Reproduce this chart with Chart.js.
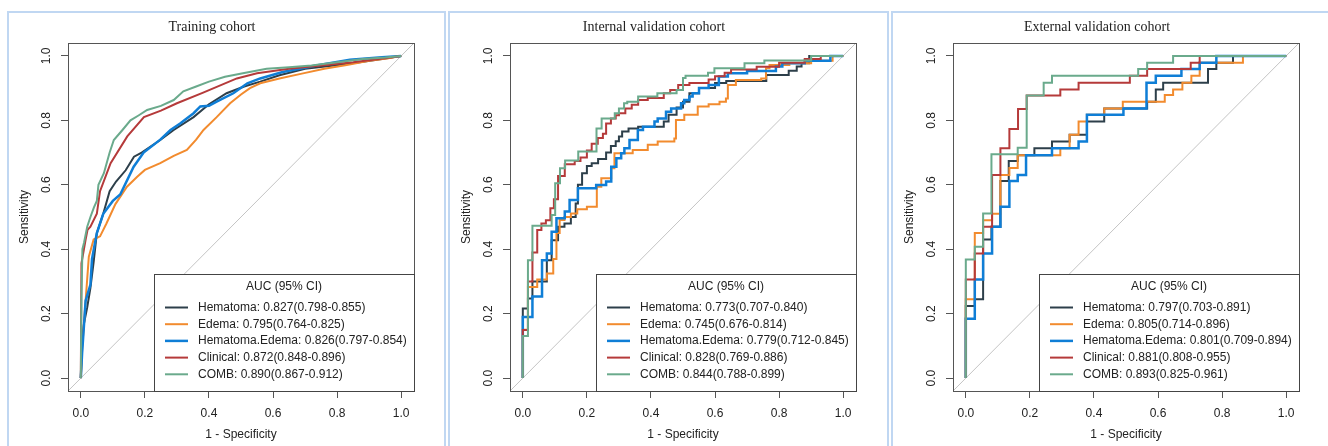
<!DOCTYPE html>
<html>
<head>
<meta charset="utf-8">
<script src="https://cdn.jsdelivr.net/npm/chart.js@4.4.1/dist/chart.umd.min.js"></script>
<style>
  body { margin: 0; background: #fff; width: 1328px; height: 446px; overflow: hidden; position: relative; }
  .panel { position: absolute; top: 11px; height: 460px; border: 2px solid #c0d7f2; box-sizing: border-box; }
  canvas { position: absolute; top: 13px; }
</style>
</head>
<body>
<div class="panel" style="left:7px;width:439px"></div>
<div class="panel" style="left:448px;width:441px"></div>
<div class="panel" style="left:891px;width:450px"></div>
<canvas id="train" width="434" height="433" style="left:8px"></canvas>
<canvas id="internal" width="434" height="433" style="left:450px"></canvas>
<canvas id="external" width="434" height="433" style="left:893px"></canvas>
<script>
// ROC curves: 1 - specificity (fpr) and sensitivity (sens)
const modelNames = ['Hematoma', 'Edema', 'Hematoma.Edema', 'Clinical', 'COMB'];
const modelColors = ['#2d3f4a', '#f28b2e', '#0f7ed6', '#b53a3a', '#6aaa8c'];
const tickVals = [0, 0.2, 0.4, 0.6, 0.8, 1.0];
const axisMin = -0.04, axisMax = 1.04;

// training cohort
const trainHemFpr = [0, 0.004, 0.01, 0.02, 0.03, 0.04, 0.05, 0.07, 0.09, 0.11, 0.14, 0.166, 0.19, 0.248, 0.29, 0.352, 0.40, 0.455, 0.51, 0.56, 0.62, 0.70, 0.79, 0.87, 0.94, 1];
const trainHemSens = [0, 0.12, 0.17, 0.22, 0.28, 0.36, 0.45, 0.51, 0.58, 0.61, 0.645, 0.687, 0.70, 0.739, 0.77, 0.81, 0.85, 0.884, 0.905, 0.92, 0.94, 0.96, 0.97, 0.98, 0.99, 1];
const trainEdeFpr = [0, 0.004, 0.015, 0.025, 0.04, 0.06, 0.08, 0.108, 0.144, 0.176, 0.20, 0.248, 0.29, 0.331, 0.36, 0.383, 0.424, 0.466, 0.50, 0.528, 0.56, 0.62, 0.69, 0.76, 0.83, 0.90, 0.96, 1];
const trainEdeSens = [0, 0.09, 0.24, 0.377, 0.43, 0.44, 0.48, 0.54, 0.594, 0.625, 0.646, 0.667, 0.69, 0.708, 0.74, 0.77, 0.81, 0.853, 0.88, 0.90, 0.915, 0.93, 0.945, 0.96, 0.972, 0.985, 0.993, 1];
const trainHeFpr = [0, 0.004, 0.015, 0.03, 0.035, 0.05, 0.07, 0.10, 0.123, 0.165, 0.196, 0.248, 0.28, 0.31, 0.352, 0.373, 0.40, 0.424, 0.476, 0.52, 0.56, 0.63, 0.735, 0.84, 0.94, 1];
const trainHeSens = [0, 0.077, 0.24, 0.29, 0.37, 0.45, 0.51, 0.55, 0.57, 0.656, 0.70, 0.74, 0.77, 0.79, 0.822, 0.843, 0.845, 0.858, 0.884, 0.915, 0.93, 0.95, 0.97, 0.988, 0.996, 1];
const trainCliFpr = [0, 0.002, 0.015, 0.021, 0.03, 0.05, 0.06, 0.093, 0.145, 0.197, 0.25, 0.30, 0.38, 0.487, 0.55, 0.65, 0.75, 0.85, 0.93, 1];
const trainCliSens = [0, 0.356, 0.43, 0.46, 0.47, 0.51, 0.58, 0.667, 0.75, 0.81, 0.83, 0.853, 0.885, 0.93, 0.946, 0.96, 0.97, 0.98, 0.99, 1];
const trainCombFpr = [0, 0.002, 0.005, 0.01, 0.02, 0.03, 0.041, 0.05, 0.055, 0.072, 0.09, 0.103, 0.13, 0.155, 0.18, 0.207, 0.25, 0.29, 0.32, 0.36, 0.40, 0.45, 0.51, 0.58, 0.65, 0.72, 0.80, 0.88, 0.95, 1];
const trainCombSens = [0, 0.25, 0.40, 0.42, 0.47, 0.50, 0.53, 0.55, 0.60, 0.636, 0.70, 0.739, 0.77, 0.80, 0.815, 0.832, 0.845, 0.863, 0.89, 0.905, 0.92, 0.935, 0.947, 0.96, 0.965, 0.97, 0.98, 0.99, 0.995, 1];
const trainAuc = ['0.827(0.798-0.855)', '0.795(0.764-0.825)', '0.826(0.797-0.854)', '0.872(0.848-0.896)', '0.890(0.867-0.912)'];

// internal validation cohort (staircase corners)
const intHemFpr = [0, 0.016, 0.030, 0.075, 0.090, 0.110, 0.130, 0.150, 0.165, 0.172, 0.185, 0.200, 0.215, 0.235, 0.260, 0.275, 0.290, 0.300, 0.310, 0.330, 0.360, 0.440, 0.455, 0.480, 0.500, 0.520, 0.550, 0.600, 0.635, 0.760, 0.830, 0.855, 0.870, 0.894, 1];
const intHemSens = [0, 0.216, 0.247, 0.30, 0.366, 0.428, 0.47, 0.48, 0.50, 0.542, 0.60, 0.636, 0.658, 0.667, 0.68, 0.70, 0.72, 0.735, 0.75, 0.765, 0.775, 0.78, 0.796, 0.817, 0.84, 0.858, 0.884, 0.90, 0.916, 0.922, 0.941, 0.954, 0.967, 0.977, 1];
const intEdeFpr = [0, 0.016, 0.045, 0.075, 0.095, 0.105, 0.115, 0.130, 0.150, 0.170, 0.200, 0.231, 0.245, 0.276, 0.286, 0.343, 0.390, 0.421, 0.473, 0.478, 0.504, 0.546, 0.580, 0.614, 0.634, 0.640, 0.665, 0.744, 0.759, 0.770, 0.832, 0.900, 0.967, 1];
const intEdeSens = [0, 0.15, 0.283, 0.306, 0.325, 0.37, 0.45, 0.491, 0.50, 0.511, 0.524, 0.532, 0.594, 0.62, 0.651, 0.698, 0.708, 0.724, 0.734, 0.744, 0.801, 0.817, 0.843, 0.85, 0.858, 0.868, 0.91, 0.925, 0.93, 0.962, 0.972, 0.977, 0.985, 1];
const intHeFpr = [0, 0.030, 0.060, 0.075, 0.090, 0.105, 0.131, 0.146, 0.172, 0.229, 0.260, 0.276, 0.292, 0.307, 0.317, 0.333, 0.359, 0.375, 0.411, 0.421, 0.447, 0.463, 0.494, 0.504, 0.520, 0.530, 0.550, 0.580, 0.612, 0.640, 0.700, 0.790, 0.810, 0.880, 0.960, 1];
const intHeSens = [0, 0.19, 0.253, 0.366, 0.387, 0.454, 0.496, 0.517, 0.553, 0.589, 0.599, 0.61, 0.656, 0.682, 0.698, 0.713, 0.739, 0.77, 0.78, 0.796, 0.806, 0.827, 0.837, 0.853, 0.863, 0.874, 0.884, 0.90, 0.91, 0.936, 0.946, 0.953, 0.967, 0.977, 0.985, 1];
const intCliFpr = [0, 0.016, 0.030, 0.045, 0.058, 0.072, 0.086, 0.097, 0.110, 0.131, 0.162, 0.18, 0.20, 0.215, 0.234, 0.25, 0.26, 0.275, 0.29, 0.30, 0.32, 0.34, 0.36, 0.39, 0.44, 0.46, 0.485, 0.52, 0.58, 0.60, 0.63, 0.65, 0.73, 0.80, 0.88, 0.93, 1];
const intCliSens = [0, 0.149, 0.30, 0.39, 0.46, 0.48, 0.49, 0.527, 0.555, 0.627, 0.664, 0.674, 0.685, 0.706, 0.727, 0.745, 0.758, 0.79, 0.806, 0.816, 0.822, 0.837, 0.848, 0.863, 0.869, 0.884, 0.894, 0.91, 0.916, 0.927, 0.937, 0.948, 0.958, 0.966, 0.979, 0.99, 1];
const intCombFpr = [0, 0.016, 0.030, 0.090, 0.101, 0.116, 0.132, 0.173, 0.230, 0.246, 0.287, 0.300, 0.316, 0.326, 0.36, 0.42, 0.48, 0.50, 0.508, 0.578, 0.598, 0.692, 0.754, 0.90, 1];
const intCombSens = [0, 0.131, 0.366, 0.473, 0.506, 0.605, 0.651, 0.675, 0.703, 0.775, 0.806, 0.822, 0.837, 0.853, 0.858, 0.874, 0.884, 0.894, 0.931, 0.938, 0.948, 0.962, 0.977, 0.986, 1];
const intAuc = ['0.773(0.707-0.840)', '0.745(0.676-0.814)', '0.779(0.712-0.845)', '0.828(0.769-0.886)', '0.844(0.788-0.899)'];

// external validation cohort (staircase corners)
const extHemFpr = [0, 0.028, 0.054, 0.080, 0.108, 0.134, 0.162, 0.214, 0.269, 0.324, 0.378, 0.432, 0.566, 0.593, 0.616, 0.756, 0.782, 0.834, 1];
const extHemSens = [0, 0.224, 0.245, 0.43, 0.47, 0.612, 0.674, 0.692, 0.713, 0.734, 0.755, 0.796, 0.837, 0.858, 0.896, 0.917, 0.959, 0.979, 1];
const extEdeFpr = [0, 0.028, 0.054, 0.082, 0.108, 0.136, 0.162, 0.295, 0.324, 0.352, 0.378, 0.432, 0.49, 0.621, 0.647, 0.676, 0.704, 0.730, 0.865, 1];
const extEdeSens = [0, 0.245, 0.45, 0.49, 0.51, 0.63, 0.652, 0.692, 0.713, 0.755, 0.796, 0.817, 0.837, 0.858, 0.879, 0.896, 0.917, 0.938, 0.979, 1];
const extHeFpr = [0, 0.028, 0.054, 0.082, 0.108, 0.136, 0.162, 0.188, 0.269, 0.352, 0.378, 0.492, 0.564, 0.593, 0.673, 0.730, 0.782, 1];
const extHeSens = [0, 0.184, 0.306, 0.387, 0.47, 0.532, 0.612, 0.63, 0.692, 0.713, 0.734, 0.817, 0.837, 0.917, 0.938, 0.959, 0.979, 1];
const extCliFpr = [0, 0.028, 0.054, 0.082, 0.108, 0.136, 0.163, 0.190, 0.295, 0.352, 0.512, 0.566, 0.702, 0.730, 1];
const extCliSens = [0, 0.306, 0.387, 0.47, 0.63, 0.713, 0.773, 0.835, 0.877, 0.896, 0.917, 0.938, 0.959, 0.979, 1];
const extCombFpr = [0, 0.028, 0.054, 0.080, 0.162, 0.190, 0.243, 0.269, 0.538, 0.566, 0.647, 1];
const extCombSens = [0, 0.368, 0.408, 0.511, 0.695, 0.715, 0.877, 0.917, 0.938, 0.959, 0.979, 1];
const extAuc = ['0.797(0.703-0.891)', '0.805(0.714-0.896)', '0.801(0.709-0.894)', '0.881(0.808-0.955)', '0.893(0.825-0.961)'];

const sansFont = '"Liberation Sans", Arial, sans-serif';
const pts = (xs, ys) => xs.map((x, i) => ({ x: x, y: ys[i] }));

// box, rotated y labels, title and the AUC legend (R / pROC look)
const rocDecor = {
  id: 'rocDecor',
  afterDraw(chart, args, opts) {
    const ctx = chart.ctx, a = chart.chartArea, ys = chart.scales.y;
    ctx.save();
    ctx.strokeStyle = '#555';
    ctx.lineWidth = 1;
    ctx.strokeRect(Math.round(a.left) + 0.5, Math.round(a.top) + 0.5, Math.round(a.right - a.left), Math.round(a.bottom - a.top));

    ctx.fillStyle = '#222';
    ctx.font = '12px ' + sansFont;
    ctx.textAlign = 'center';
    ctx.textBaseline = 'middle';
    tickVals.forEach(v => {
      ctx.save();
      ctx.translate(a.left - 21, ys.getPixelForValue(v));
      ctx.rotate(-Math.PI / 2);
      ctx.fillText(v.toFixed(1), 0, 0);
      ctx.restore();
    });

    ctx.font = '14px "Liberation Serif", "Times New Roman", serif';
    ctx.fillText(opts.title, (a.left + a.right) / 2 - 29, a.top - 16);

    // legend
    const w = 260, h = 117;
    const lx = a.right - w, ly = a.bottom - h;
    ctx.fillStyle = '#fff';
    ctx.fillRect(lx, ly, w, h);
    ctx.strokeStyle = '#444';
    ctx.strokeRect(Math.round(lx) + 0.5, Math.round(ly) + 0.5, w, h);
    ctx.fillStyle = '#222';
    ctx.font = '12px ' + sansFont;
    ctx.fillText('AUC (95% CI)', lx + w / 2, ly + 13);
    ctx.textAlign = 'left';
    modelNames.forEach((name, i) => {
      const yy = ly + 33.5 + i * 16.7;
      ctx.strokeStyle = modelColors[i];
      ctx.lineWidth = i === 2 ? 2.5 : 2;
      ctx.beginPath();
      ctx.moveTo(lx + 11, yy);
      ctx.lineTo(lx + 34, yy);
      ctx.stroke();
      ctx.fillStyle = '#222';
      ctx.fillText(name + ': ' + opts.auc[i], lx + 44, yy);
    });
    ctx.restore();
  }
};

function rocChart(id, title, fprs, senss, auc, stepped) {
  const datasets = fprs.map((f, i) => ({
    data: pts(f, senss[i]),
    borderColor: modelColors[i],
    borderWidth: i === 2 ? 2.5 : 2,
    stepped: stepped ? 'after' : false,
    order: 4 - i
  }));
  datasets.push({
    data: pts([axisMin, axisMax], [axisMin, axisMax]),
    borderColor: '#c4c4c4',
    borderWidth: 1,
    order: 10
  });
  const setTicks = s => { s.ticks = tickVals.map(v => ({ value: v })); };
  new Chart(document.getElementById(id), {
    type: 'line',
    data: { datasets: datasets },
    plugins: [rocDecor],
    options: {
      responsive: false,
      animation: false,
      devicePixelRatio: 1,
      layout: { padding: { top: 30, right: 28, left: 0, bottom: 0 } },
      elements: { point: { radius: 0 }, line: { tension: 0, fill: false } },
      plugins: {
        legend: { display: false },
        tooltip: { enabled: false },
        rocDecor: { title: title, auc: auc }
      },
      scales: {
        x: {
          type: 'linear', min: axisMin, max: axisMax,
          afterBuildTicks: setTicks,
          afterFit: s => { s.height = 55; },
          grid: { drawOnChartArea: false, tickLength: 7, color: '#555' },
          border: { display: false },
          ticks: { padding: 8, color: '#222', font: { size: 12, family: sansFont }, callback: v => v.toFixed(1), maxRotation: 0 },
          title: { display: true, text: '1 - Specificity', color: '#222', font: { size: 12, family: sansFont }, padding: { top: 0, bottom: 4 } }
        },
        y: {
          type: 'linear', min: axisMin, max: axisMax,
          afterBuildTicks: setTicks,
          afterFit: s => { s.width = 60; },
          grid: { drawOnChartArea: false, tickLength: 7, color: '#555' },
          border: { display: false },
          ticks: { display: false },
          title: { display: true, text: 'Sensitivity', color: '#222', font: { size: 12, family: sansFont }, padding: { top: 9, bottom: 0 } }
        }
      }
    }
  });
}

rocChart('train', 'Training cohort',
  [trainHemFpr, trainEdeFpr, trainHeFpr, trainCliFpr, trainCombFpr],
  [trainHemSens, trainEdeSens, trainHeSens, trainCliSens, trainCombSens], trainAuc, false);
rocChart('internal', 'Internal validation cohort',
  [intHemFpr, intEdeFpr, intHeFpr, intCliFpr, intCombFpr],
  [intHemSens, intEdeSens, intHeSens, intCliSens, intCombSens], intAuc, true);
rocChart('external', 'External validation cohort',
  [extHemFpr, extEdeFpr, extHeFpr, extCliFpr, extCombFpr],
  [extHemSens, extEdeSens, extHeSens, extCliSens, extCombSens], extAuc, true);
</script>
</body>
</html>
